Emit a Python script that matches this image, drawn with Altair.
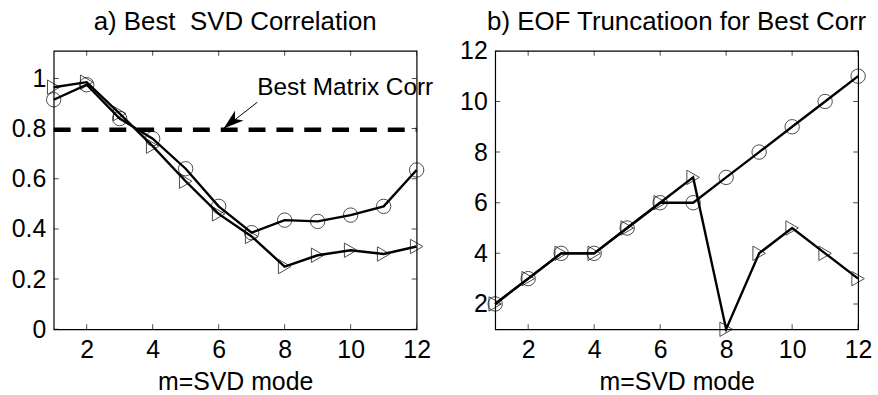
import altair as alt
import pandas as pd

# ---- data ----
modes = [1, 2, 3, 4, 5, 6, 7, 8, 9, 10, 11, 12]
corr_circle = [0.915, 0.975, 0.84, 0.76, 0.64, 0.49, 0.385, 0.435, 0.43, 0.455, 0.49, 0.635]
corr_triangle = [0.965, 0.985, 0.86, 0.73, 0.59, 0.46, 0.37, 0.25, 0.295, 0.315, 0.30, 0.33]
eof_circle = [2, 3, 4, 4, 5, 6, 6, 7, 8, 9, 10, 11]
eof_triangle = [2, 3, 4, 4, 5, 6, 7, 1, 4, 5, 4, 3]
best_matrix_corr = 0.795

x_ticks = [2, 4, 6, 8, 10, 12]
y_ticks_a = [0, 0.2, 0.4, 0.6, 0.8, 1.0]
y_ticks_b = [2, 4, 6, 8, 10, 12]

ann_text = ["Best Matrix Corr"]
ann_text_x = [7.17]
ann_text_y = [0.934]
arrow_start = [7.17, 0.905]
arrow_tip = [6.15, 0.80]

FONT = "Liberation Sans"
W, H = 365, 280


def long_df(circ, tri):
    return pd.DataFrame({
        "mode": modes * 2,
        "value": circ + tri,
        "series": ["circle"] * len(modes) + ["triangle"] * len(modes),
    })


def panel(df, xdom, ydom, yticks, title, title_offset, extra=None):
    xs = alt.Scale(domain=xdom, nice=False, zero=False)
    ys = alt.Scale(domain=ydom, nice=False, zero=False)
    x_enc = alt.X("mode:Q", scale=xs,
                  axis=alt.Axis(values=x_ticks, title="m=SVD mode", format="d"))
    y_enc = alt.Y("value:Q", scale=ys,
                  axis=alt.Axis(values=yticks, title=None, format="~g"))
    base = alt.Chart(df)
    lines = base.mark_line(color="black", strokeWidth=2.4).encode(
        x=x_enc, y=y_enc, detail="series:N", order="mode:Q")
    pts = base.mark_point(filled=False, size=210, strokeWidth=1, color="black").encode(
        x=x_enc, y=y_enc,
        shape=alt.Shape("series:N", legend=None,
                        scale=alt.Scale(domain=["circle", "triangle"],
                                        range=["circle", "triangle-right"])))
    # inward ticks on all four sides
    tx = pd.DataFrame({"t": x_ticks})
    ty = pd.DataFrame({"t": yticks})
    tick_b = alt.Chart(tx).mark_tick(orient="vertical", size=10, thickness=1,
                                     color="black", clip=True).encode(
        x=alt.X("t:Q", scale=xs), y=alt.datum(ydom[0], scale=ys))
    tick_t = alt.Chart(tx).mark_tick(orient="vertical", size=10, thickness=1,
                                     color="black", clip=True).encode(
        x=alt.X("t:Q", scale=xs), y=alt.datum(ydom[1], scale=ys))
    tick_l = alt.Chart(ty).mark_tick(orient="horizontal", size=10, thickness=1,
                                     color="black", clip=True).encode(
        y=alt.Y("t:Q", scale=ys), x=alt.datum(xdom[0], scale=xs))
    tick_r = alt.Chart(ty).mark_tick(orient="horizontal", size=10, thickness=1,
                                     color="black", clip=True).encode(
        y=alt.Y("t:Q", scale=ys), x=alt.datum(xdom[1], scale=xs))
    layers = [lines, pts, tick_b, tick_t, tick_l, tick_r]
    if extra:
        layers += extra(xs, ys)
    return alt.layer(*layers).properties(
        width=W, height=H,
        title=alt.TitleParams(title, font=FONT, fontSize=26, fontWeight="normal",
                              color="black", offset=title_offset))


def extra_a(xs, ys):
    dash = alt.Chart(pd.DataFrame({"v": [best_matrix_corr]})).mark_rule(
        color="black", strokeWidth=4.5, strokeDash=[17, 11]).encode(
        y=alt.Y("v:Q", scale=ys), x=alt.datum(modes[0], scale=xs),
        x2=alt.datum(modes[-1]))
    txt = alt.Chart(pd.DataFrame({"x": ann_text_x, "y": ann_text_y, "t": ann_text})).mark_text(
        font=FONT, fontSize=24.5, align="left", baseline="alphabetic", color="black").encode(
        x=alt.X("x:Q", scale=xs), y=alt.Y("y:Q", scale=ys), text="t:N")
    arr = pd.DataFrame({"x": [arrow_start[0]], "y": [arrow_start[1]],
                        "x2": [arrow_tip[0]], "y2": [arrow_tip[1]]})
    shaft = alt.Chart(arr).mark_rule(color="black", strokeWidth=1).encode(
        x=alt.X("x:Q", scale=xs), y=alt.Y("y:Q", scale=ys), x2="x2:Q", y2="y2:Q")
    head = alt.Chart(arr).mark_point(
        shape="M0,0 L0.32,1 L0,0.72 L-0.32,1 Z", filled=True, color="black",
        size=1700, angle=230, opacity=1).encode(
        x=alt.X("x2:Q", scale=xs), y=alt.Y("y2:Q", scale=ys))
    return [dash, shaft, head, txt]


left = panel(long_df(corr_circle, corr_triangle), [1, 12], [0, 1.11], y_ticks_a,
             "a) Best \u00a0SVD Correlation", 16, extra_a)
right = panel(long_df(eof_circle, eof_triangle), [1, 12], [1, 12], y_ticks_b,
              "b) EOF Truncatioon for Best Corr", 3.5)

chart = alt.hconcat(left, right, spacing=79, bounds="flush").properties(
    padding={"left": 10, "top": 7, "right": 5, "bottom": 0},
    background="white",
).configure_view(stroke="black", strokeWidth=1.2).configure_axis(
    labelFont=FONT, labelFontSize=25, labelColor="black", labelPadding=8,
    labelFlush=False, labelOverlap=False,
    titleFont=FONT, titleFontSize=25, titleFontWeight="normal", titleColor="black",
    titlePadding=8, ticks=False, domain=False, grid=False,
).configure_title(anchor="middle")

chart.save("out.html", embed_options={"renderer": "svg", "actions": False})
